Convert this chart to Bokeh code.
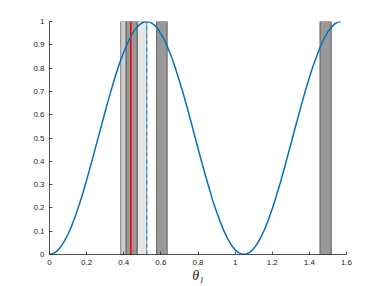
from bokeh.plotting import figure
from bokeh.models import FixedTicker, Range1d
from bokeh.embed import file_html
from bokeh.resources import INLINE

# curve samples (theta, value)
theta = [round(0.02 * k, 2) for k in range(79)] + [1.5708]
curve = [0.000, 0.004, 0.014, 0.032, 0.057, 0.087, 0.124, 0.166, 0.213, 0.264,
         0.319, 0.376, 0.435, 0.495, 0.554, 0.614, 0.671, 0.726, 0.778, 0.826,
         0.869, 0.907, 0.939, 0.965, 0.983, 0.995, 1.000, 0.998, 0.988, 0.972,
         0.948, 0.919, 0.883, 0.842, 0.795, 0.745, 0.692, 0.635, 0.576, 0.516,
         0.456, 0.397, 0.339, 0.284, 0.230, 0.183, 0.139, 0.100, 0.067, 0.040,
         0.020, 0.007, 0.001, 0.002, 0.010, 0.025, 0.047, 0.076, 0.110, 0.150,
         0.196, 0.246, 0.299, 0.355, 0.414, 0.473, 0.533, 0.593, 0.651, 0.707,
         0.760, 0.809, 0.852, 0.894, 0.928, 0.956, 0.977, 0.992, 0.999, 1.000]

# light bars (left, right)
light_left = [0.383, 0.472]
light_right = [0.413, 0.524]
light_colors = ["#cdcdcd", "#e6e6e6"]
# dark bars
dark_left = [0.413, 0.577, 1.457]
dark_right = [0.472, 0.634, 1.518]
bar_top = 1.0
red_x = 0.438
dash_x = 0.524

x_ticks = [0, 0.2, 0.4, 0.6, 0.8, 1.0, 1.2, 1.4, 1.6]
x_labels = ["0", "0.2", "0.4", "0.6", "0.8", "1", "1.2", "1.4", "1.6"]
y_ticks = [0, 0.1, 0.2, 0.3, 0.4, 0.5, 0.6, 0.7, 0.8, 0.9, 1.0]
y_labels = ["0", "0.1", "0.2", "0.3", "0.4", "0.5", "0.6", "0.7", "0.8", "0.9", "1"]
x_title = "θ₁"

p = figure(width=382, height=286, output_backend="svg", toolbar_location=None,
           x_range=Range1d(0, 1.6), y_range=Range1d(0, 1),
           min_border_left=49, min_border_right=36, min_border_top=21, min_border_bottom=32)
p.outline_line_color = None
p.xgrid.visible = False
p.ygrid.visible = False
p.background_fill_color = "white"

p.quad(left=light_left, right=light_right, bottom=0, top=bar_top,
       fill_color=light_colors, line_color="#707070", line_width=0.8)
p.quad(left=dark_left, right=dark_right, bottom=0, top=bar_top,
       fill_color="#999999", line_color="#4a4a4a", line_width=0.8)
p.segment(x0=[red_x], y0=[0], x1=[red_x], y1=[bar_top], line_color="#ff0000", line_width=1.6)
p.segment(x0=[dash_x], y0=[0], x1=[dash_x], y1=[bar_top], line_color="#2b9be6",
          line_width=1.3, line_dash="4 3")
p.line(theta, curve, line_color="#0072BD", line_width=1.5)

for ax, ticks, labels in ((p.xaxis[0], x_ticks, x_labels), (p.yaxis[0], y_ticks, y_labels)):
    ax.ticker = FixedTicker(ticks=ticks)
    ax.major_label_overrides = {t: l for t, l in zip(ticks, labels)}
    ax.minor_tick_line_color = None
    ax.major_tick_in = 3
    ax.major_tick_out = 0
    ax.axis_line_color = "#262626"
    ax.axis_line_width = 0.8
    ax.major_tick_line_color = "#262626"
    ax.major_tick_line_width = 0.8
    ax.major_label_text_font = "Liberation Sans"
    ax.major_label_text_font_size = "8px"
    ax.major_label_text_color = "#262626"
p.xaxis.major_label_standoff = 5
p.yaxis.major_label_standoff = 5

xa = p.xaxis[0]
xa.axis_label = x_title
xa.axis_label_text_font = "Liberation Serif"
xa.axis_label_text_font_style = "italic"
xa.axis_label_text_font_size = "14px"
xa.axis_label_text_color = "#262626"
xa.axis_label_standoff = 0

open("out.html", "w").write(file_html(p, INLINE))
